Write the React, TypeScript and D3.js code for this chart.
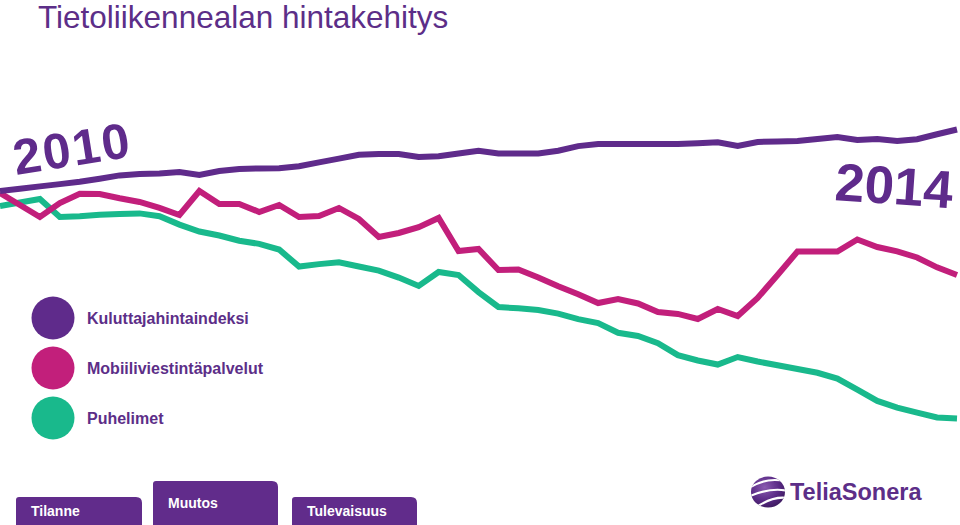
import React from "react";
import * as d3 from "d3";

// Monthly index values, Jan 2010 .. Jan 2014
const months: number[] = d3.range(0, 49);

const kuluttajahintaindeksi: number[] = [
  100.25, 100.54, 100.83, 101.11, 101.4, 101.78, 102.2, 102.38, 102.44, 102.63,
  102.25, 102.75, 103.01, 103.06, 103.1, 103.34, 103.83, 104.3, 104.78, 104.88,
  104.88, 104.5, 104.59, 104.94, 105.29, 104.94, 104.94, 104.93, 105.28, 105.86,
  106.13, 106.13, 106.13, 106.13, 106.13, 106.23, 106.35, 105.88, 106.38, 106.44,
  106.5, 106.74, 107.0, 106.63, 106.75, 106.5, 106.73, 107.34, 107.94,
];

const mobiiliviestintapalvelut: number[] = [
  100.0, 98.5, 97.0, 98.75, 99.9, 99.88, 99.35, 98.88, 98.14, 97.25,
  100.25, 98.63, 98.64, 97.63, 98.5, 97.0, 97.13, 98.13, 96.76, 94.5,
  95.0, 95.73, 96.88, 92.75, 93.0, 90.38, 90.44, 89.44, 88.34, 87.34,
  86.25, 86.75, 86.19, 85.13, 84.88, 84.25, 85.5, 84.63, 86.89, 89.76,
  92.69, 92.69, 92.69, 94.19, 93.25, 92.71, 91.94, 90.71, 89.75,
];

const puhelimet: number[] = [
  98.38, 98.81, 99.25, 97.0, 97.09, 97.28, 97.36, 97.45, 97.1, 96.05,
  95.19, 94.69, 94.03, 93.64, 92.93, 90.81, 91.11, 91.33, 90.81, 90.29,
  89.43, 88.38, 90.13, 89.75, 87.61, 85.75, 85.58, 85.38, 84.93, 84.24,
  83.73, 82.53, 82.13, 81.23, 79.73, 79.06, 78.56, 79.5, 78.94, 78.46,
  78.0, 77.53, 76.8, 75.41, 74.01, 73.18, 72.55, 71.94, 71.81,
];

const seriesNames: string[] = ["Kuluttajahintaindeksi", "Mobiiliviestintäpalvelut", "Puhelimet"];
const yearLabels: string[] = ["2010", "2014"];
const tabLabels: string[] = ["Tilanne", "Muutos", "Tulevaisuus"];
const titleText = "Tietoliikennealan hintakehitys";
const logoText = "TeliaSonera";

const PURPLE = "#5f2b8b";
const PINK = "#c21f7b";
const GREEN = "#19b98c";
const colors = [PURPLE, PINK, GREEN];

export default function App() {
  const W = 960;
  const H = 525;
  const x = d3.scaleLinear().domain([0, 48]).range([0, 957]);
  const y = d3.scaleLinear().domain([70, 110]).range([433, 113]);
  const line = d3
    .line<number>()
    .x((_, i) => x(months[i]))
    .y((d) => y(d));

  const seriesData = [kuluttajahintaindeksi, mobiiliviestintapalvelut, puhelimet];
  const drawOrder = [2, 1, 0];

  const tabs = [
    { x: 16, top: 497, w: 126, base: 516 },
    { x: 153, top: 481, w: 125, base: 508 },
    { x: 292, top: 497, w: 125, base: 516 },
  ];
  const tabPath = (x0: number, top: number, w: number) => {
    const r1 = 3;
    const r2 = 6;
    return `M${x0},${H} L${x0},${top + r1} Q${x0},${top} ${x0 + r1},${top} L${x0 + w - r2},${top} Q${x0 + w},${top} ${x0 + w},${top + r2} L${x0 + w},${H} Z`;
  };

  return (
    <svg
      width={W}
      height={H}
      viewBox={`0 0 ${W} ${H}`}
      style={{ position: "absolute", left: 0, top: 0, background: "#fff", fontFamily: "'Liberation Sans', Arial, sans-serif" }}
    >
      <defs>
        <radialGradient id="sphere" cx="0.4" cy="0.35" r="0.7">
          <stop offset="0%" stopColor="#8a5bb0" />
          <stop offset="60%" stopColor="#5a2a86" />
          <stop offset="100%" stopColor="#3c1a5e" />
        </radialGradient>
        <clipPath id="sphereClip">
          <ellipse cx={768} cy={492} rx={17} ry={15.5} />
        </clipPath>
      </defs>

      <text x={38} y={27.5} fontSize={31.5} fill="#5c2e88">
        {titleText}
      </text>

      {/* year labels */}
      <text x={16} y={175} fontSize={50} fontWeight="bold" fill={PURPLE} transform="rotate(-9 16 175)" letterSpacing={2}>
        {yearLabels[0]}
      </text>
      <text x={834} y={200} fontSize={53} fontWeight="bold" fill={PURPLE} transform="rotate(4 834 200)">
        {yearLabels[1]}
      </text>

      {/* lines */}
      {drawOrder.map((k) => (
        <path key={k} d={line(seriesData[k]) || ""} fill="none" stroke={colors[k]} strokeWidth={6} strokeLinejoin="miter" />
      ))}

      {/* legend */}
      {seriesNames.map((name, i) => (
        <g key={name}>
          <circle cx={53} cy={318 + i * 50} r={21.5} fill={colors[i]} />
          <text x={87} y={324 + i * 50} fontSize={16} fontWeight="bold" fill="#5c2e88">
            {name}
          </text>
        </g>
      ))}

      {/* tabs */}
      {tabs.map((t, i) => (
        <g key={tabLabels[i]}>
          <path d={tabPath(t.x, t.top, t.w)} fill="#612c8b" />
          <text x={t.x + 15} y={t.base} fontSize={14} fontWeight="bold" fill="#ffffff">
            {tabLabels[i]}
          </text>
        </g>
      ))}

      {/* logo */}
      <g>
        <ellipse cx={768} cy={492} rx={17} ry={15.5} fill="url(#sphere)" />
        <g clipPath="url(#sphereClip)" fill="none" stroke="#ffffff" strokeWidth={2.2}>
          <path d="M749,488 Q768,476 788,482" />
          <path d="M750,496 Q772,487 788,491" />
          <path d="M758,506 Q774,496 787,498" />
        </g>
        <text x={790} y={500} fontSize={23.5} fontWeight="bold" fill="#5c2e88">
          {logoText}
        </text>
      </g>
    </svg>
  );
}
